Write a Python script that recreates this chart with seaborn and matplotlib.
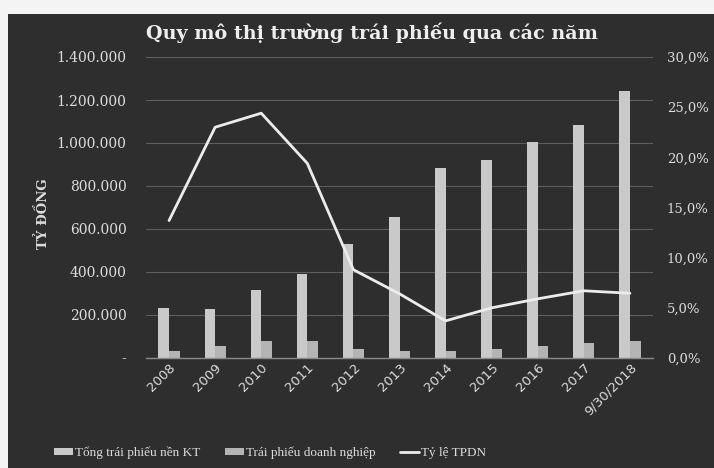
import matplotlib
matplotlib.use("Agg")
import matplotlib.pyplot as plt
import seaborn as sns
import numpy as np
import pandas as pd
from matplotlib.patches import Rectangle
from matplotlib.lines import Line2D

categories = ["2008", "2009", "2010", "2011", "2012", "2013", "2014",
              "2015", "2016", "2017", "9/30/2018"]
tong_tp = [234000, 228000, 317000, 390000, 530000, 657000, 884000,
           923000, 1004000, 1082000, 1243000]
tp_dn = [31000, 54000, 80000, 80000, 42000, 31000, 31000,
         44000, 55000, 70000, 80000]
ty_le = [13.7, 23.0, 24.4, 19.4, 8.8, 6.4, 3.7, 5.0, 5.9, 6.7, 6.45]

series_names = ["Tổng trái phiếu nền KT", "Trái phiếu doanh nghiệp", "Tỷ lệ TPDN"]
left_ticks = [0, 200000, 400000, 600000, 800000, 1000000, 1200000, 1400000]
right_ticks = [0, 5, 10, 15, 20, 25, 30]

BG = "#2e2e2e"
TXT = "#dcdcdc"
BAR1 = "#c9c9c9"
BAR2 = "#b4b4b4"
LINE = "#ececec"

sns.set_style("dark")
plt.rcParams["font.family"] = ["DejaVu Serif"]

fig = plt.figure(figsize=(7.14, 4.68), dpi=100)
fig.patch.set_facecolor(BG)
# white scan margins
fig.patches.append(Rectangle((0, 1 - 14 / 468), 1, 14 / 468, transform=fig.transFigure,
                             facecolor="#f4f4f4", edgecolor="none", zorder=-1))
fig.patches.append(Rectangle((0, 0), 8 / 714, 1, transform=fig.transFigure,
                             facecolor="#f4f4f4", edgecolor="none", zorder=-1))

ax = fig.add_axes([146 / 714, 1 - 358 / 468, (653 - 146) / 714, (358 - 57) / 468])
ax.set_facecolor(BG)

df = pd.DataFrame({
    "cat": categories * 2,
    "val": tong_tp + tp_dn,
    "series": [series_names[0]] * len(categories) + [series_names[1]] * len(categories),
})
sns.barplot(data=df, x="cat", y="val", hue="series", order=categories,
            hue_order=series_names[:2], palette=[BAR1, BAR2], width=0.46,
            gap=0, ax=ax, legend=False, saturation=1, edgecolor="none")

ax.set_ylim(0, 1400000)
ax.set_xlim(-0.5, len(categories) - 0.5)
ax.set_yticks(left_ticks)
ax.set_yticklabels(["-"] + [f"{v:,}".replace(",", ".") for v in left_ticks[1:]],
                   color=TXT, fontsize=10)
ax.grid(axis="y", color="#5e5e5e", linewidth=0.8, linestyle="-")
ax.grid(axis="x", visible=False)
ax.set_axisbelow(True)
for s in ["top", "right", "left"]:
    ax.spines[s].set_visible(False)
ax.spines["bottom"].set_color("#8a8a8a")
ax.spines["bottom"].set_linewidth(1.0)
ax.tick_params(axis="y", length=0, pad=14)
ax.tick_params(axis="x", length=0, pad=2)
ax.set_xlabel("")
ax.set_ylabel("TỶ ĐỒNG", color=TXT, fontsize=9.5, fontweight="bold")
ax.yaxis.set_label_coords(-0.19, 0.48)
ax.set_xticks(range(len(categories)))
ax.set_xticklabels(categories, rotation=45, ha="right", rotation_mode="anchor",
                   color=TXT, fontsize=9.5, family="DejaVu Sans")

ax2 = ax.twinx()
sns.lineplot(x=np.arange(len(categories)), y=ty_le, ax=ax2, color=LINE,
             linewidth=2.0, legend=False)
ax2.set_ylim(0, 30)
ax2.set_yticks(right_ticks)
ax2.set_yticklabels([f"{v:.1f}%".replace(".", ",") for v in right_ticks],
                    color=TXT, fontsize=9.5)
ax2.tick_params(axis="y", length=0, pad=10)
ax2.grid(False)
for s in ax2.spines.values():
    s.set_visible(False)
ax2.set_ylabel("")

fig.text(372 / 714, 1 - 33 / 468, "Quy mô thị trường trái phiếu qua các năm",
         ha="center", va="center", color="#eeeeee", fontsize=13.8, fontweight="bold")

handles = [Rectangle((0, 0), 1, 1, facecolor=BAR1, edgecolor="none"),
           Rectangle((0, 0), 1, 1, facecolor=BAR2, edgecolor="none"),
           Line2D([0], [0], color=LINE, linewidth=2)]
leg = fig.legend(handles, series_names, loc="center",
                 bbox_to_anchor=(270 / 714, 1 - 453 / 468), ncol=3, frameon=False,
                 prop={"family": "Liberation Serif", "size": 9.5},
                 handlelength=1.4, handleheight=0.45, handletextpad=0.15,
                 columnspacing=1.9)
for t in leg.get_texts():
    t.set_color(TXT)

fig.savefig("out.png", dpi=100, facecolor=fig.get_facecolor())
